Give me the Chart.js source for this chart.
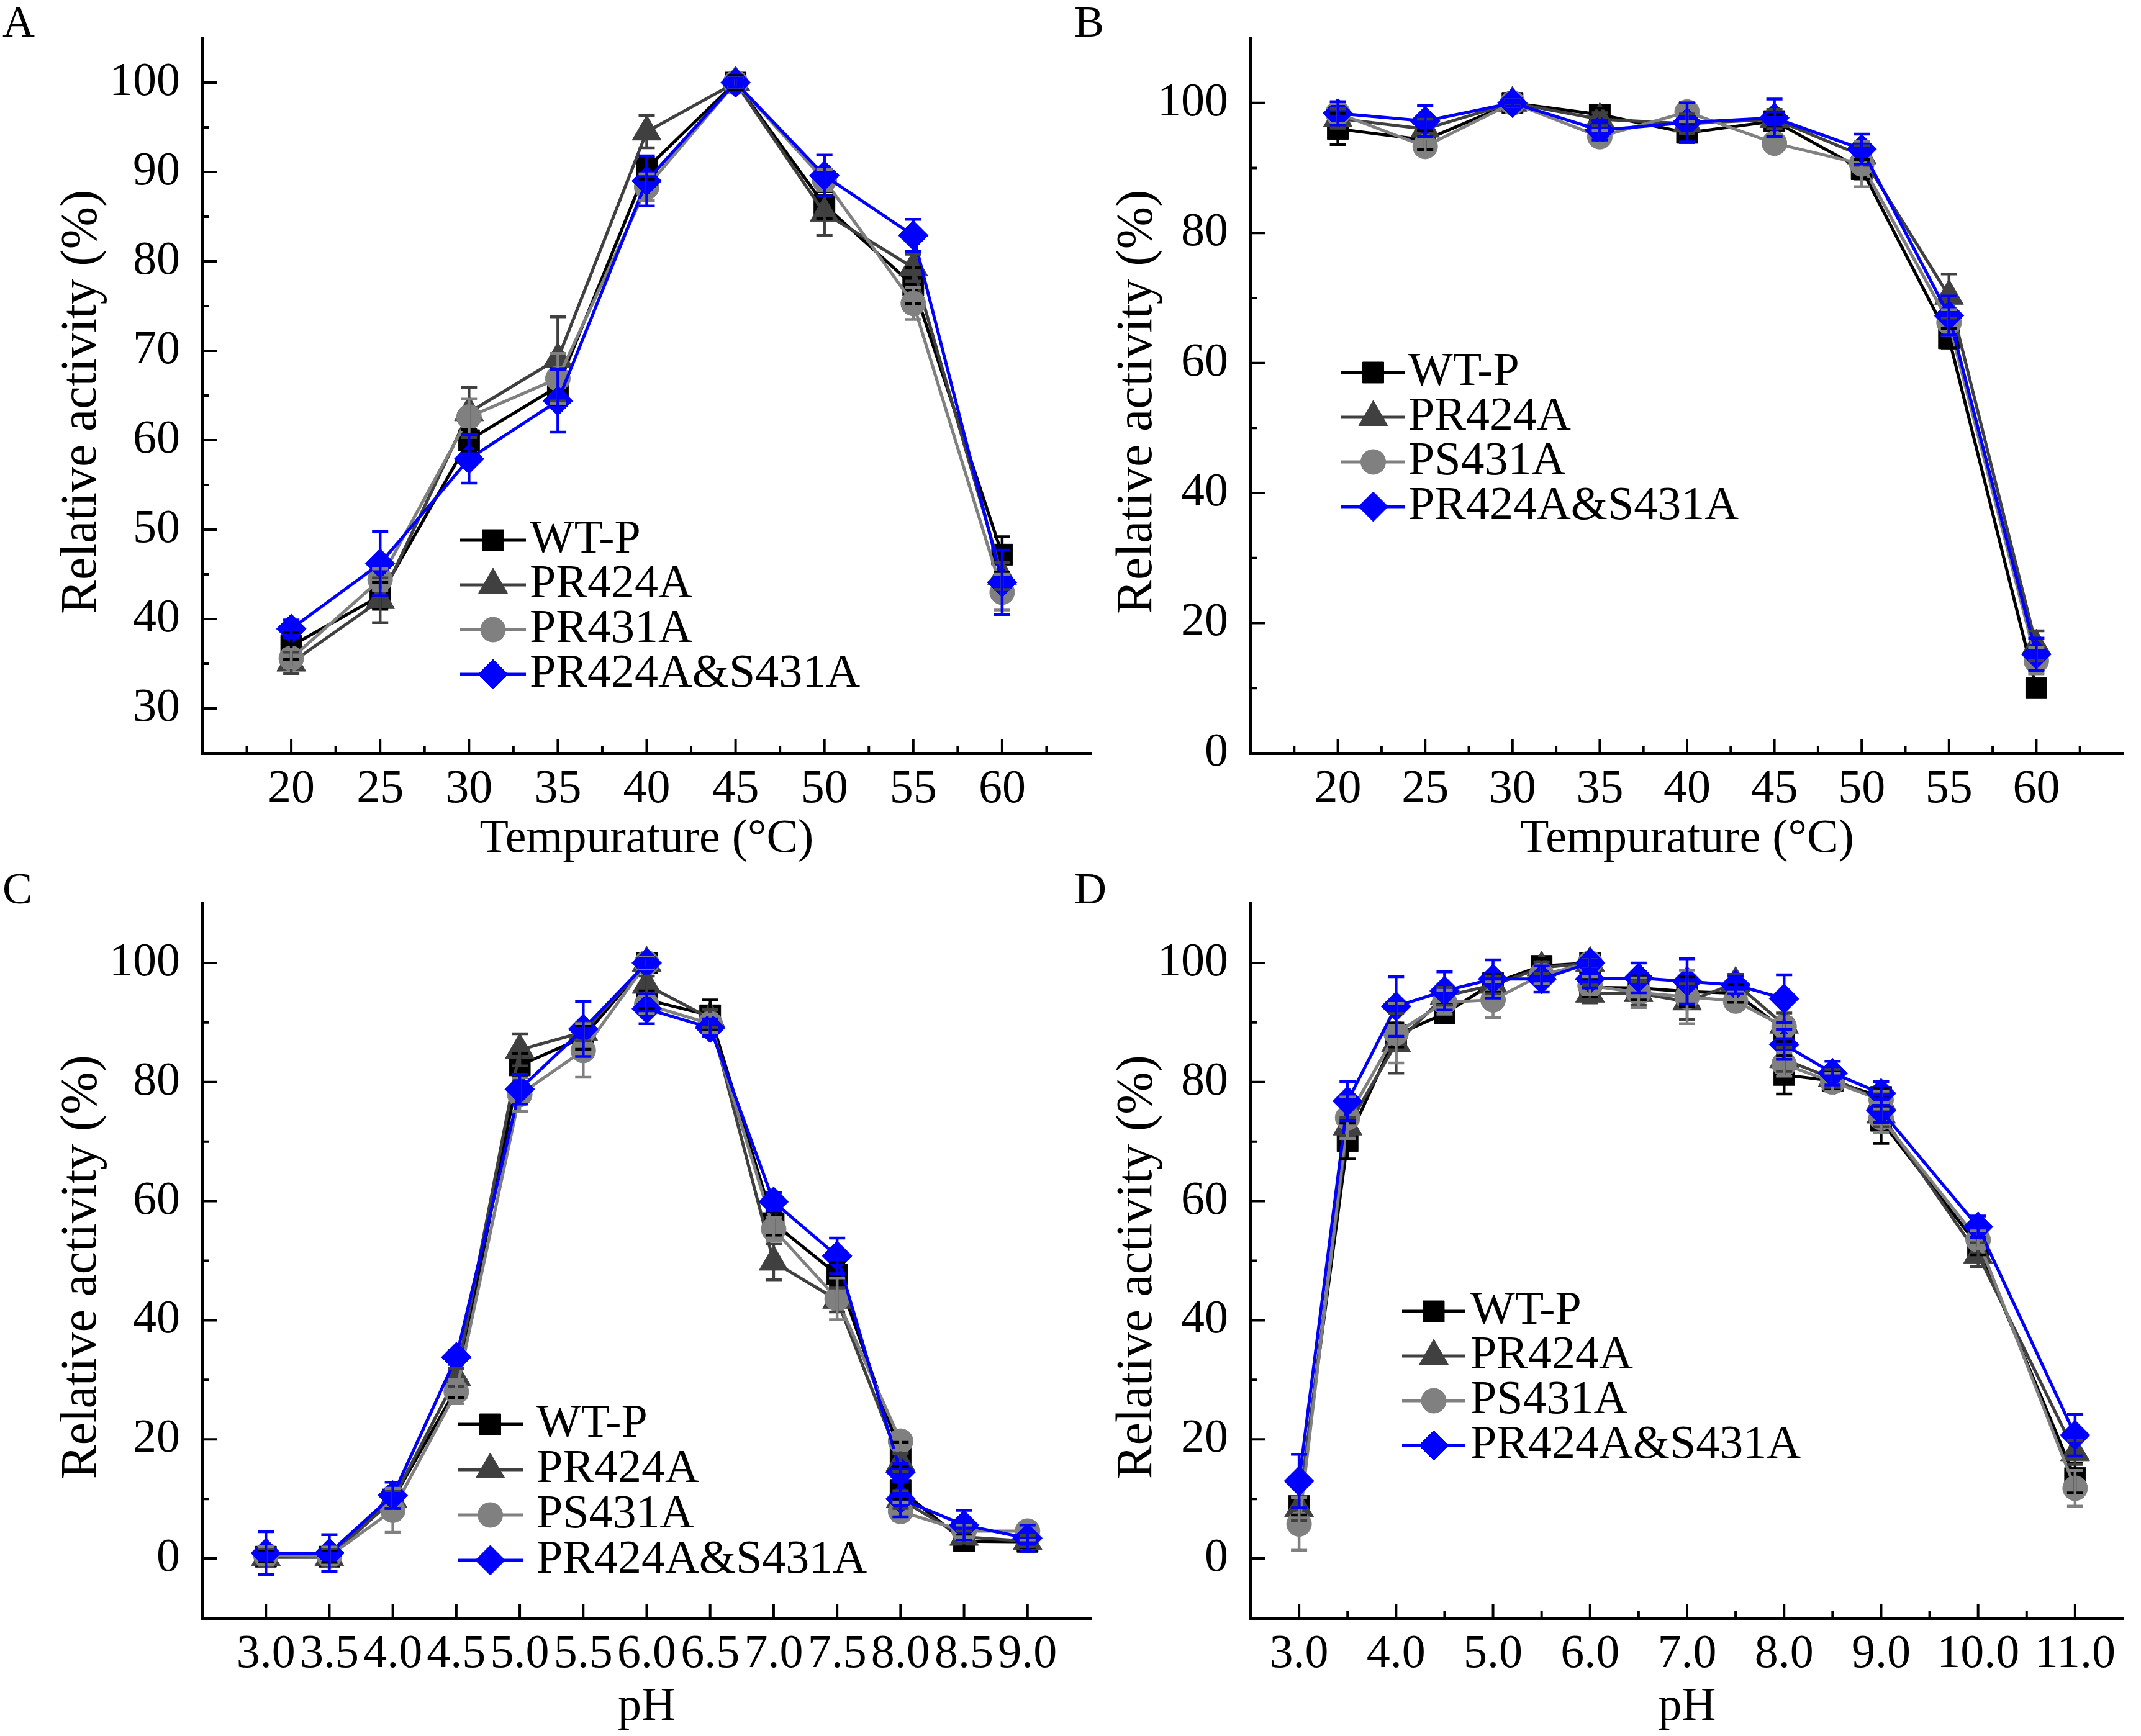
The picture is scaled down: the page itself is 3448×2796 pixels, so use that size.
<!DOCTYPE html>
<html>
<head>
<meta charset="utf-8">
<script src="https://cdn.jsdelivr.net/npm/chart.js@4.4.1/dist/chart.umd.min.js"></script>
<style>
  html, body { margin: 0; padding: 0; background: #fff; }
  body { width: 3448px; height: 2796px; position: relative; overflow: hidden; font-family: "Liberation Serif"; }
  canvas { position: absolute; left: 0; top: 0; }
  #warm { position: absolute; left: 10px; top: 2790px; font: 76px "Liberation Serif"; color: #fff; white-space: nowrap; }
</style>
</head>
<body>
<div id="warm">Relative activity (%) Tempurature (°C) pH WT-P PR424A PS431A 0123456789.</div>
<canvas id="panelA" width="3448" height="2796"></canvas>
<canvas id="panelB" width="3448" height="2796"></canvas>
<canvas id="panelC" width="3448" height="2796"></canvas>
<canvas id="panelD" width="3448" height="2796"></canvas>
<script>
// ---- data ----
const tempC = [20, 25, 30, 35, 40, 45, 50, 55, 60];

// A: optimum temperature
const aWT   = [37.0, 42.6, 60.0, 66.0, 90.4, 100, 86.3, 77.3, 47.2];
const aR424 = [35.1, 42.1, 63.1, 69.1, 94.5, 100, 85.4, 79.3, 44.8];
const aR431 = [35.6, 44.4, 62.6, 66.9, 88.3, 100, 89.1, 75.3, 43.0];
const aRS   = [38.9, 46.2, 57.9, 64.4, 89.0, 100, 89.6, 82.9, 44.1];
const aWTe   = [1.5, 1.5, 1.2, 2.0, 1.2, 0.8, 1.5, 2.0, 2.0];
const aR424e = [1.2, 2.5, 2.8, 4.7, 1.8, 0.5, 2.5, 1.5, 1.5];
const aR431e = [1.0, 1.2, 2.0, 2.8, 1.5, 0.5, 1.2, 1.8, 2.0];
const aRSe   = [1.0, 3.6, 2.7, 3.5, 2.8, 0.5, 2.3, 1.8, 3.6];

// B: thermal stability
const bWT   = [96.0, 94.3, 100, 98.2, 95.4, 97.2, 89.8, 63.8, 10.0];
const bR424 = [97.6, 96.0, 100, 97.5, 96.8, 97.5, 91.9, 70.3, 16.5];
const bR431 = [98.4, 93.3, 100, 94.8, 98.6, 93.8, 90.6, 66.2, 14.2];
const bRS   = [98.4, 97.2, 100, 95.8, 97.0, 97.7, 92.9, 67.3, 15.2];
const bWTe   = [2.4, 1.5, 0.5, 1.0, 1.5, 1.0, 1.5, 1.5, 1.0];
const bR424e = [1.5, 1.5, 0.5, 1.0, 1.5, 1.5, 1.5, 3.4, 2.3];
const bR431e = [1.5, 1.2, 0.5, 1.0, 1.5, 1.2, 3.5, 2.0, 2.0];
const bRSe   = [1.8, 2.4, 0.5, 1.5, 3.0, 2.9, 2.3, 3.0, 2.5];

// C: optimum pH (6.0 and 8.0 measured in two buffers)
const phC   = [3.0, 3.5, 4.0, 4.5, 5.0, 5.5, 6.0, 6.0, 6.5, 7.0, 7.5, 8.0, 8.0, 8.5, 9.0];
const cWT   = [0.3, 0.3, 9.9, 28.5, 82.8, 87.5, 100, 93.8, 91.2, 56.3, 47.7, 17.5, 11.5, 2.9, 2.8];
const cR424 = [0.2, 0.2, 9.9, 30.4, 85.4, 88.4, 100, 96.3, 90.7, 49.8, 43.4, 16.1, 9.9, 3.6, 2.9];
const cR431 = [0.5, 0.4, 8.1, 28.0, 77.9, 85.3, 100, 93.0, 89.8, 55.3, 43.6, 19.7, 7.9, 4.6, 4.6];
const cRS   = [0.9, 0.9, 10.6, 33.8, 78.8, 88.9, 100, 92.3, 89.1, 59.9, 50.8, 14.5, 10.0, 5.6, 3.4];
const cWTe   = [1.0, 1.0, 1.5, 1.5, 2.0, 2.0, 1.0, 1.5, 2.6, 2.0, 2.0, 2.0, 1.5, 1.0, 1.0];
const cR424e = [1.5, 1.5, 1.5, 1.5, 2.7, 1.5, 1.0, 1.5, 1.5, 3.0, 2.0, 1.5, 1.5, 1.0, 1.0];
const cR431e = [1.5, 1.5, 3.7, 2.0, 2.8, 4.5, 1.0, 1.5, 1.5, 2.0, 3.5, 1.5, 1.5, 1.0, 1.5];
const cRSe   = [3.6, 3.1, 2.2, 1.2, 2.5, 4.6, 0.8, 2.5, 1.5, 1.5, 3.0, 1.5, 3.0, 2.5, 2.2];

// D: pH stability (6.0, 8.0 and 9.0 measured in two buffers)
const phD   = [3.0, 3.5, 4.0, 4.5, 5.0, 5.5, 6.0, 6.0, 6.5, 7.0, 7.5, 8.0, 8.0, 8.5, 9.0, 9.0, 10.0, 11.0];
const dWT   = [8.8, 70.1, 87.9, 91.5, 96.6, 99.5, 100, 95.9, 95.8, 95.2, 94.9, 88.8, 81.2, 80.2, 77.5, 73.5, 52.5, 13.5];
const dR424 = [8.4, 72.5, 86.5, 94.4, 96.3, 99.2, 100, 94.8, 94.9, 93.5, 96.6, 89.6, 83.8, 80.6, 76.8, 74.5, 51.0, 17.8];
const dR431 = [5.8, 74.0, 88.2, 93.4, 93.8, 98.0, 100, 96.2, 95.0, 94.3, 93.6, 89.3, 83.0, 80.0, 77.0, 74.0, 53.5, 11.8];
const dRS   = [13.0, 76.8, 92.7, 95.3, 97.3, 97.3, 100, 97.3, 97.5, 96.9, 96.3, 94.0, 86.3, 81.5, 78.1, 75.2, 55.7, 20.7];
const dWTe   = [1.5, 3.0, 2.0, 1.5, 1.5, 1.2, 1.0, 1.5, 2.0, 2.5, 1.5, 2.0, 3.2, 1.5, 1.5, 3.8, 1.5, 2.5];
const dR424e = [2.0, 1.5, 5.0, 1.5, 1.5, 1.0, 1.0, 1.5, 2.0, 3.0, 1.5, 2.0, 2.0, 1.5, 1.5, 2.0, 2.0, 2.0];
const dR431e = [4.4, 3.5, 5.0, 2.0, 3.0, 1.5, 1.0, 1.5, 2.5, 4.5, 1.5, 1.5, 2.0, 1.5, 1.5, 2.5, 1.5, 3.0];
const dRSe   = [4.5, 3.3, 5.0, 3.2, 3.2, 2.2, 1.0, 1.5, 2.5, 3.8, 1.5, 4.0, 2.5, 2.0, 2.0, 2.0, 1.8, 3.5];

// tick labels
const tempTicks  = [20, 25, 30, 35, 40, 45, 50, 55, 60];
const tempMinor  = [17.5, 22.5, 27.5, 32.5, 37.5, 42.5, 47.5, 52.5, 57.5, 62.5];
const phCTicks   = [3.0, 3.5, 4.0, 4.5, 5.0, 5.5, 6.0, 6.5, 7.0, 7.5, 8.0, 8.5, 9.0];
const phDTicks   = [3, 4, 5, 6, 7, 8, 9, 10, 11];
const phDMinor   = [3.5, 4.5, 5.5, 6.5, 7.5, 8.5, 9.5, 10.5];
const actATicks  = [30, 40, 50, 60, 70, 80, 90, 100];
const actAMinor  = [35, 45, 55, 65, 75, 85, 95];
const actTicks   = [0, 20, 40, 60, 80, 100];
const actMinor   = [10, 30, 50, 70, 90];

const namesA = ['WT-P', 'PR424A', 'PR431A', 'PR424A&S431A'];
const namesB = ['WT-P', 'PR424A', 'PS431A', 'PR424A&S431A'];

// ---- styling ----
const FAM = '"Liberation Serif"';
Chart.defaults.font.family = FAM;
Chart.defaults.color = '#000';

const looks = [
  {color: '#000000', style: 'rect', radius: 24},
  {color: '#404040', style: 'triangle', radius: 27},
  {color: '#808080', style: 'circle', radius: 20},
  {color: '#0000ff', style: 'rectRot', radius: 24}
];

const decor = {
  id: 'decor',
  afterDatasetsDraw(chart, args, o) {
    const ctx = chart.ctx, ys = chart.scales.y;
    ctx.save();
    ctx.lineWidth = 4.5;
    chart.data.datasets.forEach((ds, i) => {
      const meta = chart.getDatasetMeta(i);
      ctx.strokeStyle = ds.borderColor;
      meta.data.forEach((pt, j) => {
        const v = ds.data[j].y, e = ds.errors[j];
        const top = ys.getPixelForValue(v + e), bot = ys.getPixelForValue(v - e);
        ctx.beginPath();
        ctx.moveTo(pt.x, top); ctx.lineTo(pt.x, bot);
        ctx.moveTo(pt.x - 13, top); ctx.lineTo(pt.x + 13, top);
        ctx.moveTo(pt.x - 13, bot); ctx.lineTo(pt.x + 13, bot);
        ctx.stroke();
      });
    });
    ctx.restore();
  },
  afterDraw(chart, args, o) {
    const ctx = chart.ctx, ca = chart.chartArea;
    const xs = chart.scales.x, ys = chart.scales.y;
    ctx.save();
    // inward ticks
    ctx.strokeStyle = '#000';
    ctx.lineWidth = 4;
    ctx.beginPath();
    o.xMajor.forEach(v => { const p = xs.getPixelForValue(v); ctx.moveTo(p, ca.bottom); ctx.lineTo(p, ca.bottom - 23); });
    o.xMinor.forEach(v => { const p = xs.getPixelForValue(v); ctx.moveTo(p, ca.bottom); ctx.lineTo(p, ca.bottom - 11); });
    o.yMajor.forEach(v => { const p = ys.getPixelForValue(v); ctx.moveTo(ca.left, p); ctx.lineTo(ca.left + 23, p); });
    o.yMinor.forEach(v => { const p = ys.getPixelForValue(v); ctx.moveTo(ca.left, p); ctx.lineTo(ca.left + 11, p); });
    ctx.stroke();

    // legend: line + marker + label
    ctx.font = '76px ' + FAM;
    ctx.textBaseline = 'middle';
    ctx.textAlign = 'left';
    chart.data.datasets.forEach((ds, i) => {
      const y = o.legend.rows[i];
      ctx.strokeStyle = ds.borderColor;
      ctx.fillStyle = ds.borderColor;
      ctx.lineWidth = 5;
      ctx.beginPath();
      ctx.moveTo(o.legend.x0, y); ctx.lineTo(o.legend.x1, y);
      ctx.stroke();
      ctx.lineWidth = 1;
      Chart.helpers.drawPoint(ctx, {pointStyle: ds.pointStyle, radius: ds.pointRadius, borderWidth: 1, rotation: 0},
        (o.legend.x0 + o.legend.x1) / 2, y);
      ctx.fillStyle = '#000';
      ctx.fillText(ds.label, o.legend.tx, y);
    });

    // panel letter
    ctx.font = '72px ' + FAM;
    ctx.fillStyle = '#000';
    ctx.fillText(o.letter, o.lx, o.ly);
    ctx.restore();
  }
};

function panel(p) {
  const datasets = looks.map((s, k) => ({
    label: p.names[k],
    data: p.xs.map((x, j) => ({x: x, y: p.ys[k][j]})),
    errors: p.errs[k],
    borderColor: s.color,
    backgroundColor: s.color,
    pointBackgroundColor: s.color,
    pointBorderColor: s.color,
    pointStyle: s.style,
    pointRadius: s.radius,
    pointHoverRadius: s.radius,
    pointBorderWidth: 1,
    borderWidth: 5,
    tension: 0,
    order: 4 - k
  }));

  return new Chart(document.getElementById(p.id), {
    type: 'line',
    data: {datasets: datasets},
    options: {
      responsive: false,
      animation: false,
      devicePixelRatio: 1,
      events: [],
      layout: {padding: p.pad},
      plugins: {
        legend: {display: false},
        tooltip: {enabled: false},
        decor: {
          xMajor: p.xTicks, xMinor: p.xMinor, yMajor: p.yTicks, yMinor: p.yMinor,
          legend: p.legend, letter: p.letter, lx: p.lx, ly: p.ly
        }
      },
      scales: {
        x: {
          type: 'linear', min: p.xMin, max: p.xMax,
          grid: {display: false},
          border: {display: true, color: '#000', width: 5},
          afterBuildTicks: sc => { sc.ticks = p.xTicks.map(v => ({value: v})); },
          afterFit: sc => { sc.height = p.xHeight; },
          ticks: {
            autoSkip: false, maxRotation: 0, minRotation: 0, padding: 5, color: '#000',
            font: {family: FAM, size: 76, lineHeight: 1.2},
            callback: v => p.xFmt(v)
          },
          title: {display: true, text: p.xTitle, color: '#000', font: {family: FAM, size: 76}, padding: {top: 0, bottom: p.xTitlePad}}
        },
        y: {
          type: 'linear', min: p.yMin, max: p.yMax,
          grid: {display: false},
          border: {display: true, color: '#000', width: 5},
          afterBuildTicks: sc => { sc.ticks = p.yTicks.map(v => ({value: v})); },
          afterFit: sc => { sc.width = p.yWidth; },
          ticks: {padding: 28, color: '#000', font: {family: FAM, size: 76, lineHeight: 0.6}},
          title: {display: true, text: 'Relative activity (%) ', color: '#000', font: {family: FAM, size: 82}, padding: {top: 43, bottom: 0}}
        }
      }
    },
    plugins: [decor]
  });
}

const intFmt = v => String(v);
const oneDec = v => v.toFixed(1);

function drawAll() {
  panel({
    id: 'panelA', letter: 'A', lx: 4, ly: 40,
    xs: tempC, ys: [aWT, aR424, aR431, aRS], errs: [aWTe, aR424e, aR431e, aRSe], names: namesA,
    xMin: 15, xMax: 65, yMin: 25, yMax: 105,
    xTicks: tempTicks, xMinor: tempMinor, yTicks: actATicks, yMinor: actAMinor, xFmt: intFmt,
    xTitle: 'Tempurature (°C)', xTitlePad: 15,
    pad: {left: 40, top: 61, right: 1691, bottom: 1383}, yWidth: 286, xHeight: 200,
    legend: {x0: 741, x1: 847, tx: 853, rows: [870, 942, 1014, 1086]}
  });

  panel({
    id: 'panelB', letter: 'B', lx: 1730, ly: 40,
    xs: tempC, ys: [bWT, bR424, bR431, bRS], errs: [bWTe, bR424e, bR431e, bRSe], names: namesB,
    xMin: 15, xMax: 65, yMin: 0, yMax: 110,
    xTicks: tempTicks, xMinor: tempMinor, yTicks: actTicks, yMinor: actMinor, xFmt: intFmt,
    xTitle: 'Tempurature (°C)', xTitlePad: 15,
    pad: {left: 1740, top: 61, right: 8, bottom: 1383}, yWidth: 274, xHeight: 200,
    legend: {x0: 2160, x1: 2263, tx: 2268, rows: [600, 672, 744, 816]}
  });

  panel({
    id: 'panelC', letter: 'C', lx: 4, ly: 1436,
    xs: phC, ys: [cWT, cR424, cR431, cRS], errs: [cWTe, cR424e, cR431e, cRSe], names: namesB,
    xMin: 2.5, xMax: 9.5, yMin: -10, yMax: 110,
    xTicks: phCTicks, xMinor: [], yTicks: actTicks, yMinor: actMinor, xFmt: oneDec,
    xTitle: 'pH', xTitlePad: 0,
    pad: {left: 40, top: 1455, right: 1691, bottom: 0}, yWidth: 286, xHeight: 190,
    legend: {x0: 737, x1: 842, tx: 864, rows: [2294, 2367, 2440, 2513]}
  });

  panel({
    id: 'panelD', letter: 'D', lx: 1730, ly: 1436,
    xs: phD, ys: [dWT, dR424, dR431, dRS], errs: [dWTe, dR424e, dR431e, dRSe], names: namesB,
    xMin: 2.5, xMax: 11.5, yMin: -10, yMax: 110,
    xTicks: phDTicks, xMinor: phDMinor, yTicks: actTicks, yMinor: actMinor, xFmt: oneDec,
    xTitle: 'pH', xTitlePad: 0,
    pad: {left: 1740, top: 1455, right: 8, bottom: 0}, yWidth: 274, xHeight: 190,
    legend: {x0: 2258, x1: 2360, tx: 2368, rows: [2112, 2184, 2256, 2328]}
  });
}

// make sure the serif face is ready before the canvases use it
if (document.fonts && document.fonts.load) {
  document.fonts.load('76px "Liberation Serif"').then(drawAll, drawAll);
} else {
  drawAll();
}
</script>
</body>
</html>
